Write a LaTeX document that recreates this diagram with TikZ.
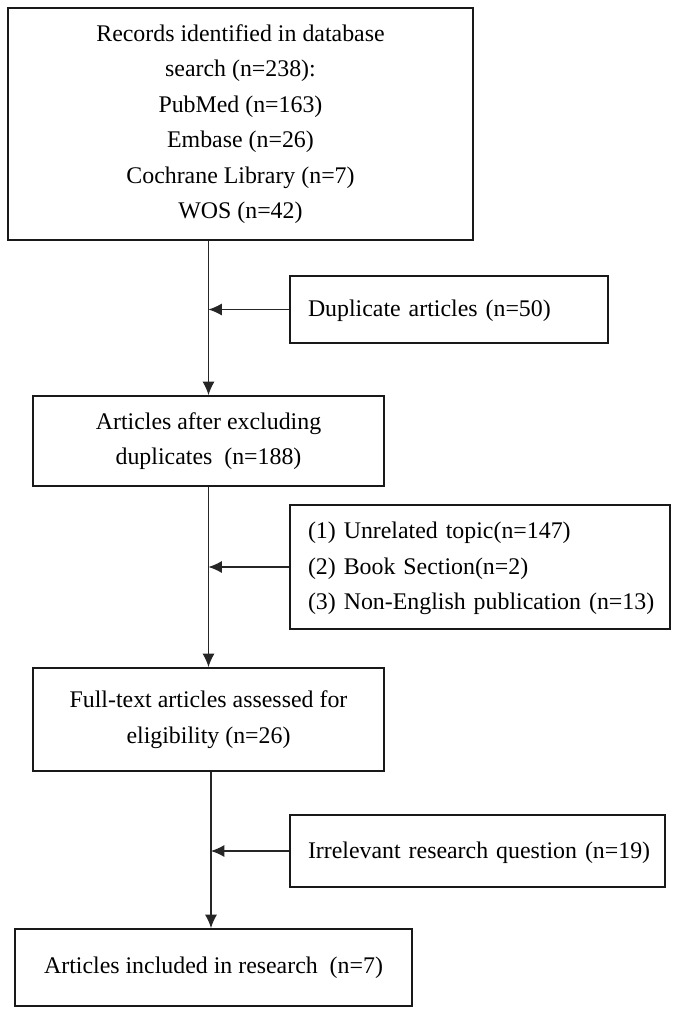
\documentclass[tikz,border=0pt]{standalone}
\usepackage{fontspec}
\setmainfont{Liberation Serif}
\usetikzlibrary{arrows.meta,calc}
\begin{document}
\begin{tikzpicture}[x=0.75pt,y=-0.75pt,
  box/.style={draw=black!90,line width=1.5pt,rectangle,inner sep=0pt,align=center,
    font=\fontsize{17.9}{26.6}\selectfont},
  leftbox/.style={draw=black!90,line width=1.5pt,rectangle,inner ysep=0pt,inner xsep=13.5pt,align=left,
    font=\fontsize{17.9}{26.6}\selectfont},
  arr/.style={draw=black!85,line width=0.8pt,-{Latex[length=10pt,width=9pt]}}]
\useasboundingbox (0,0) rectangle (673,1010);
\node[box,minimum width=348.75pt,minimum height=174pt] (b1) at (240.5,124)
  {\rule{0pt}{8pt}Records identified in database\\search (n=238):\\PubMed (n=163)\\Embase (n=26)\\Cochrane Library (n=7)\\WOS (n=42)};
\node[leftbox,text width=211.5pt,minimum height=50.25pt] (dup) at (449,309.5)
  {\begin{tabular}{@{}l@{}}Duplicate articles (n=50)\end{tabular}};
\node[box,minimum width=263.25pt,minimum height=67.5pt] (b2) at (208.5,441)
  {Articles after excluding\\duplicates\ \ (n=188)};
\node[leftbox,text width=258pt,minimum height=93pt] (ex1) at (480,567)
  {\begin{tabular}{@{}l@{}}(1) Unrelated topic(n=147)\\(2) Book Section(n=2)\\(3) Non-English publication (n=13)\end{tabular}};
\node[box,minimum width=263.25pt,minimum height=77.25pt] (b3) at (208.5,719.5)
  {Full-text articles assessed for\\eligibility (n=26)};
\node[leftbox,text width=254.25pt,minimum height=54pt] (ex2) at (477.5,851)
  {\begin{tabular}{@{}l@{}}Irrelevant research question (n=19)\end{tabular}};
\node[box,minimum width=297.75pt,minimum height=57.75pt] (b4) at (213.5,967.5)
  {Articles included in research\ \ (n=7)};
\draw[arr] (b2.north |- b1.south) -- (b2.north);
\draw[arr] (dup.west) -- (dup.west -| b2.north);
\draw[arr] (b2.south) -- (b3.north);
\draw[arr] (ex1.west) -- (ex1.west -| b3.north);
\coordinate (m) at ($(b3.south)!0.5!(b3.south -| b4.north)$);
\draw[arr] (m) -- (m |- b4.north);
\draw[arr] (ex2.west) -- (ex2.west -| m);
\end{tikzpicture}
\end{document}
